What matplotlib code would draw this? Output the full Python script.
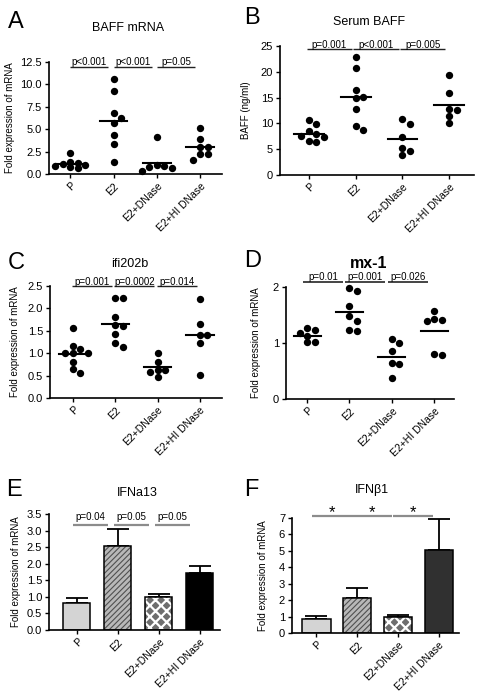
import matplotlib
matplotlib.use("Agg")
import matplotlib.pyplot as plt

plt.rcParams["font.family"] = ["Liberation Sans", "DejaVu Sans"]

CATS = ["P", "E2", "E2+DNase", "E2+HI DNase"]

# scatter panels: points per group and the horizontal line drawn for each group
baff_mrna = [
    [2.3, 1.3, 1.2, 1.1, 1.0, 0.9, 0.8, 0.7],
    [10.6, 9.3, 6.8, 6.2, 5.7, 4.4, 3.3, 1.35],
    [4.1, 1.0, 0.9, 0.8, 0.7, 0.35],
    [5.1, 3.9, 3.0, 3.0, 2.2, 2.2, 1.55],
]
baff_mrna_line = [1.1, 5.9, 1.25, 3.0]

serum_baff = [
    [10.6, 9.8, 8.5, 8.0, 7.5, 7.3, 6.5, 6.4],
    [22.9, 20.7, 16.4, 15.2, 15.0, 12.8, 9.5, 8.7],
    [10.9, 9.8, 7.4, 5.2, 4.7, 3.8],
    [19.3, 15.8, 12.8, 12.6, 11.4, 10.0],
]
serum_baff_line = [8.0, 15.1, 7.0, 13.6]

ifi202b = [
    [1.57, 1.17, 1.10, 1.0, 1.0, 1.0, 0.80, 0.64, 0.56],
    [2.23, 2.23, 1.80, 1.62, 1.60, 1.43, 1.23, 1.13],
    [1.01, 0.80, 0.63, 0.62, 0.58, 0.47],
    [2.20, 1.65, 1.40, 1.40, 1.23, 0.51],
]
ifi202b_line = [0.98, 1.66, 0.69, 1.40]

mx1 = [
    [1.27, 1.24, 1.17, 1.13, 1.01, 1.01],
    [1.99, 1.92, 1.66, 1.48, 1.39, 1.23, 1.22],
    [1.07, 1.00, 0.86, 0.65, 0.62, 0.37],
    [1.57, 1.43, 1.41, 1.40, 0.80, 0.79],
]
mx1_line = [1.13, 1.55, 0.75, 1.22]

# bar panels: mean and upper error
ifna13 = [0.81, 2.53, 1.00, 1.72]
ifna13_err = [0.16, 0.53, 0.10, 0.20]
ifnb1 = [0.85, 2.16, 0.95, 5.08]
ifnb1_err = [0.16, 0.60, 0.16, 1.88]

p_baff_mrna = ["p<0.001", "p<0.001", "p=0.05"]
p_serum_baff = ["p=0.001", "p<0.001", "p=0.005"]
p_ifi202b = ["p=0.001", "p=0.0002", "p=0.014"]
p_mx1 = ["p=0.01", "p=0.001", "p=0.026"]
p_ifna13 = ["p=0.04", "p=0.05", "p=0.05"]
p_ifnb1 = ["*", "*", "*"]

W, H = 488, 698
fig = plt.figure(figsize=(W / 100, H / 100), dpi=100)


def add_ax(l, r, t, b):
    return fig.add_axes([l / W, 1 - b / H, (r - l) / W, (b - t) / H])


def style(ax, xlim, ylim, yticks, fmt, ylabel, lab_x, left_px, width_px):
    ax.set_xlim(*xlim)
    ax.set_ylim(*ylim)
    ax.set_yticks(yticks)
    ax.set_yticklabels([fmt % v for v in yticks], fontsize=8)
    ax.set_xticks(range(len(CATS)))
    ax.set_xticklabels(CATS, rotation=45, ha="right", rotation_mode="anchor",
                       fontsize=7.5)
    for s in ["top", "right"]:
        ax.spines[s].set_visible(False)
    for s in ["left", "bottom"]:
        ax.spines[s].set_linewidth(1.2)
    ax.tick_params(length=3, width=1.0, pad=2)
    ax.set_ylabel(ylabel, fontsize=7)
    ax.yaxis.set_label_coords((lab_x - left_px) / width_px, 0.5)


def swarm(vals, px_per_unit, d=7.5):
    placed, offs = [], []
    cands = [0, 1, -1, 2, -2]
    for v in vals:
        y = v * px_per_unit
        best, best_gap = 0, -1
        for k in cands:
            x = k * d
            gap = min([((x - a) ** 2 + (y - b) ** 2) ** 0.5 for a, b in placed],
                      default=1e9)
            if gap >= 0.85 * d:
                best = x
                break
            if gap > best_gap:
                best, best_gap = x, gap
        placed.append((best, y))
        offs.append(best)
    return offs


def scatter_panel(ax, groups, lines, ax_w, ax_h):
    x0, x1 = ax.get_xlim()
    y0, y1 = ax.get_ylim()
    xs = ax_w / (x1 - x0)
    ys = ax_h / (y1 - y0)
    for i, vals in enumerate(groups):
        offs = swarm(vals, ys)
        ax.scatter([i + o / xs for o in offs], vals, s=28, color="black",
                   zorder=3, clip_on=False, linewidths=0)
        ax.plot([i - 0.32, i + 0.32], [lines[i]] * 2, color="black", lw=1.5,
                zorder=4)


def sig(ax, labels, y, color, lw, off, fs=7, lo=0.0, hi=0.88):
    for i, t in enumerate(labels):
        ax.plot([i + lo, i + hi], [y, y], color=color, lw=lw, clip_on=False,
                solid_capstyle="butt")
        ax.annotate(t, ((2 * i + lo + hi) / 2, y), xytext=(0, off),
                    textcoords="offset points", ha="center", va="baseline",
                    fontsize=fs, annotation_clip=False)


def bar_panel(ax, vals, errs, width, hi_color):
    faces = ["#d4d4d4", "#b8b8b8", "#6e6e6e", hi_color]
    hatch_cols = ["#d4d4d4", "#505050", "white", hi_color]
    hatches = [None, "//////", "xxx", None]
    hatch_lw = [1.0, 0.8, 1.6, 1.0]
    x = range(len(vals))
    ax.errorbar(x, vals, yerr=[[0] * len(vals), errs], fmt="none",
                ecolor="black", elinewidth=1.3, capsize=8, capthick=1.3,
                zorder=1)
    for i in x:
        with plt.rc_context({"hatch.linewidth": hatch_lw[i]}):
            ax.bar(i, vals[i], width=width, color=faces[i],
                   edgecolor=hatch_cols[i], hatch=hatches[i], linewidth=0,
                   zorder=2)
        ax.bar(i, vals[i], width=width, fill=False, edgecolor="black",
               linewidth=1.1, zorder=3)


def letter(x, y, t):
    fig.text(x / W, 1 - y / H, t, fontsize=17, ha="left", va="center")


def title(x, y, t, **kw):
    fig.text(x / W, 1 - y / H, t, ha="center", va="center", **kw)


# A
ax = add_ax(49, 222, 62, 174)
style(ax, (-0.49, 3.5), (0, 12.5), [0, 2.5, 5.0, 7.5, 10.0, 12.5], "%.1f",
      "Fold expression of mRNA", 15, 49, 173)
scatter_panel(ax, baff_mrna, baff_mrna_line, 173, 112)
sig(ax, p_baff_mrna, 11.98, "#222222", 1.0, 1)
letter(8, 22, "A")
title(128, 28, "BAFF mRNA", fontsize=9)

# B
ax = add_ax(280, 474, 46, 175)
style(ax, (-0.62, 3.53), (0, 25), [0, 5, 10, 15, 20, 25], "%d",
      "BAFF (ng/ml)", 251, 280, 194)
scatter_panel(ax, serum_baff, serum_baff_line, 194, 129)
sig(ax, p_serum_baff, 24.4, "#222222", 1.0, 1, lo=-0.05, hi=0.92)
letter(244, 18, "B")
title(369, 22, "Serum BAFF", fontsize=9)

# C
ax = add_ax(50, 222, 286, 398)
style(ax, (-0.54, 3.52), (0, 2.5), [0, 0.5, 1.0, 1.5, 2.0, 2.5], "%.1f",
      "Fold expression of mRNA", 20, 50, 172)
scatter_panel(ax, ifi202b, ifi202b_line, 172, 112)
sig(ax, p_ifi202b, 2.49, "#222222", 1.0, 1, lo=-0.02, hi=0.92)
letter(8, 263, "C")
title(130, 264, "ifi202b", fontsize=9)

# D
ax = add_ax(286, 454, 287, 399)
style(ax, (-0.5, 3.47), (0, 2), [0, 1, 2], "%d",
      "Fold expression of mRNA", 261, 286, 168)
scatter_panel(ax, mx1, mx1_line, 168, 112)
sig(ax, p_mx1, 2.09, "#444444", 1.4, 1.5, lo=-0.1, hi=0.85)
letter(244, 261, "D")
title(369, 263, "mx-1", fontsize=11.5, fontweight="bold")

# E
ax = add_ax(49, 220, 514, 630)
style(ax, (-0.68, 3.49), (0, 3.5), [0, 0.5, 1.0, 1.5, 2.0, 2.5, 3.0, 3.5],
      "%.1f", "Fold expression of mRNA", 21, 49, 171)
bar_panel(ax, ifna13, ifna13_err, 0.66, "black")
sig(ax, p_ifna13, 3.17, "#8c8c8c", 1.6, 3.5, lo=-0.1, hi=0.75)
letter(6, 490, "E")
title(137, 493, "IFNa13", fontsize=9)

# F
ax = add_ax(292, 459, 518, 633)
style(ax, (-0.6, 3.49), (0, 7), [0, 1, 2, 3, 4, 5, 6, 7], "%d",
      "Fold expression of mRNA", 268, 292, 167)
bar_panel(ax, ifnb1, ifnb1_err, 0.69, "#303030")
sig(ax, p_ifnb1, 7.14, "#8c8c8c", 1.6, -1, fs=12, lo=-0.12, hi=0.86)
letter(244, 490, "F")
title(372, 490, "IFNβ1", fontsize=9)

fig.savefig("out.png", dpi=100)
